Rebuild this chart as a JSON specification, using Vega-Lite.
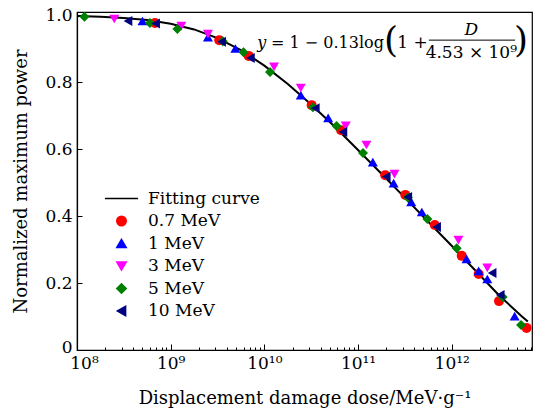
{
  "$schema": "https://vega.github.io/schema/vega-lite/v6.json",
  "width": 455,
  "height": 338,
  "autosize": "none",
  "padding": {"left": 77, "top": 12, "right": 3, "bottom": 59},
  "background": "white",
  "config": {
    "view": {"stroke": "black", "strokeWidth": 1.2},
    "font": "DejaVu Serif",
    "axis": {
      "domainColor": "black",
      "domainWidth": 1.2,
      "tickColor": "black",
      "tickWidth": 1,
      "labelColor": "black",
      "labelFont": "DejaVu Serif",
      "labelFontSize": 17,
      "titleFont": "DejaVu Serif",
      "titleFontSize": 18,
      "titleFontWeight": "normal",
      "titleColor": "black",
      "grid": false
    }
  },
  "datasets": {
    "curve": [
      {"D": 1e8, "P": 0.997},
      {"D": 1.78e8, "P": 0.995},
      {"D": 3.16e8, "P": 0.991},
      {"D": 5.62e8, "P": 0.985},
      {"D": 1e9, "P": 0.974},
      {"D": 1.78e9, "P": 0.957},
      {"D": 3.16e9, "P": 0.931},
      {"D": 5.62e9, "P": 0.895},
      {"D": 1e10, "P": 0.849},
      {"D": 1.78e10, "P": 0.794},
      {"D": 3.16e10, "P": 0.733},
      {"D": 5.62e10, "P": 0.667},
      {"D": 1e11, "P": 0.597},
      {"D": 1.78e11, "P": 0.526},
      {"D": 3.16e11, "P": 0.455},
      {"D": 5.62e11, "P": 0.383},
      {"D": 1e12, "P": 0.311},
      {"D": 1.78e12, "P": 0.238},
      {"D": 3.16e12, "P": 0.165},
      {"D": 5.62e12, "P": 0.1},
      {"D": 6.5e12, "P": 0.085}
    ],
    "pts": [
      {"series": "0.7 MeV", "D": 6.8e8, "P": 0.976},
      {"series": "0.7 MeV", "D": 3.3e9, "P": 0.925},
      {"series": "0.7 MeV", "D": 6.8e9, "P": 0.878},
      {"series": "0.7 MeV", "D": 3.2e10, "P": 0.731},
      {"series": "0.7 MeV", "D": 6.6e10, "P": 0.656},
      {"series": "0.7 MeV", "D": 1.95e11, "P": 0.522},
      {"series": "0.7 MeV", "D": 3.2e11, "P": 0.463},
      {"series": "0.7 MeV", "D": 6.6e11, "P": 0.373},
      {"series": "0.7 MeV", "D": 1.28e12, "P": 0.281},
      {"series": "0.7 MeV", "D": 1.94e12, "P": 0.227},
      {"series": "0.7 MeV", "D": 3.2e12, "P": 0.146},
      {"series": "0.7 MeV", "D": 6.3e12, "P": 0.066},
      {"series": "1 MeV", "D": 5.0e8, "P": 0.982},
      {"series": "1 MeV", "D": 2.5e9, "P": 0.934},
      {"series": "1 MeV", "D": 4.9e9, "P": 0.9},
      {"series": "1 MeV", "D": 2.45e10, "P": 0.761},
      {"series": "1 MeV", "D": 4.8e10, "P": 0.693},
      {"series": "1 MeV", "D": 1.44e11, "P": 0.561},
      {"series": "1 MeV", "D": 2.4e11, "P": 0.498},
      {"series": "1 MeV", "D": 3.7e11, "P": 0.442},
      {"series": "1 MeV", "D": 4.8e11, "P": 0.412},
      {"series": "1 MeV", "D": 1.44e12, "P": 0.272},
      {"series": "1 MeV", "D": 1.94e12, "P": 0.236},
      {"series": "1 MeV", "D": 2.4e12, "P": 0.212},
      {"series": "1 MeV", "D": 4.7e12, "P": 0.101},
      {"series": "3 MeV", "D": 2.5e8, "P": 0.988},
      {"series": "3 MeV", "D": 1.3e9, "P": 0.967},
      {"series": "3 MeV", "D": 2.5e9, "P": 0.943},
      {"series": "3 MeV", "D": 1.27e10, "P": 0.845},
      {"series": "3 MeV", "D": 2.45e10, "P": 0.782},
      {"series": "3 MeV", "D": 7.4e10, "P": 0.669},
      {"series": "3 MeV", "D": 1.23e11, "P": 0.612},
      {"series": "3 MeV", "D": 2.45e11, "P": 0.525},
      {"series": "3 MeV", "D": 1.18e12, "P": 0.328},
      {"series": "3 MeV", "D": 2.4e12, "P": 0.245},
      {"series": "5 MeV", "D": 1.2e8, "P": 0.995},
      {"series": "5 MeV", "D": 6.0e8, "P": 0.976},
      {"series": "5 MeV", "D": 1.18e9, "P": 0.958},
      {"series": "5 MeV", "D": 3.6e9, "P": 0.922},
      {"series": "5 MeV", "D": 6.0e9, "P": 0.889},
      {"series": "5 MeV", "D": 1.15e10, "P": 0.83},
      {"series": "5 MeV", "D": 3.3e10, "P": 0.725},
      {"series": "5 MeV", "D": 5.9e10, "P": 0.669},
      {"series": "5 MeV", "D": 1.13e11, "P": 0.588},
      {"series": "5 MeV", "D": 3.4e11, "P": 0.455},
      {"series": "5 MeV", "D": 5.5e11, "P": 0.391},
      {"series": "5 MeV", "D": 1.13e12, "P": 0.304},
      {"series": "5 MeV", "D": 3.5e12, "P": 0.158},
      {"series": "5 MeV", "D": 5.5e12, "P": 0.075},
      {"series": "10 MeV", "D": 3.5e8, "P": 0.982},
      {"series": "10 MeV", "D": 6.9e8, "P": 0.975},
      {"series": "10 MeV", "D": 3.5e9, "P": 0.92},
      {"series": "10 MeV", "D": 7.1e9, "P": 0.872},
      {"series": "10 MeV", "D": 3.5e10, "P": 0.722},
      {"series": "10 MeV", "D": 6.9e10, "P": 0.651},
      {"series": "10 MeV", "D": 2.0e11, "P": 0.517},
      {"series": "10 MeV", "D": 3.4e11, "P": 0.457},
      {"series": "10 MeV", "D": 6.9e11, "P": 0.367},
      {"series": "10 MeV", "D": 2.7e12, "P": 0.23},
      {"series": "10 MeV", "D": 3.3e12, "P": 0.164}
    ]
  },
  "layer": [
    {
      "data": {"name": "curve"},
      "mark": {"type": "line", "color": "black", "strokeWidth": 2},
      "encoding": {
        "x": {
          "field": "D",
          "type": "quantitative",
          "scale": {"type": "log", "domain": [1e8, 7.2e12], "nice": false},
          "axis": {
            "title": "Displacement damage dose/MeV·g⁻¹",
            "titlePadding": 15,
            "values": [1e8, 2e8, 3e8, 4e8, 5e8, 6e8, 7e8, 8e8, 9e8, 1e9, 2e9, 3e9, 4e9, 5e9, 6e9, 7e9, 8e9, 9e9, 1e10, 2e10, 3e10, 4e10, 5e10, 6e10, 7e10, 8e10, 9e10, 1e11, 2e11, 3e11, 4e11, 5e11, 6e11, 7e11, 8e11, 9e11, 1e12, 2e12, 3e12, 4e12, 5e12, 6e12, 7e12],
            "labelExpr": "abs(log(datum.value)/LN10 - round(log(datum.value)/LN10)) > 0.001 ? '' : (round(log(datum.value)/LN10) == 8 ? '10⁸' : round(log(datum.value)/LN10) == 9 ? '10⁹' : round(log(datum.value)/LN10) == 10 ? '10¹⁰' : round(log(datum.value)/LN10) == 11 ? '10¹¹' : '10¹²')",
            "tickSize": {"condition": {"test": "abs(log(datum.value)/LN10 - round(log(datum.value)/LN10)) < 0.001", "value": -6}, "value": -3},
            "labelPadding": 11,
            "labelOffset": {"condition": {"test": "datum.value < 1.5e8", "value": 7}, "value": 0},
            "labelFlush": false,
            "labelOverlap": false
          }
        },
        "y": {
          "field": "P",
          "type": "quantitative",
          "scale": {"domain": [0, 1.009], "nice": false, "zero": false},
          "axis": {
            "title": "Normalized maximum power",
            "titlePadding": 14,
            "values": [0, 0.1, 0.2, 0.3, 0.4, 0.5, 0.6, 0.7, 0.8, 0.9, 1.0],
            "labelExpr": "datum.value == 0 ? '0' : (round(datum.value*10) % 2 == 0 ? format(datum.value, '.1f') : '')",
            "tickSize": {"condition": {"test": "round(datum.value*10) % 2 == 0", "value": -5}, "value": -3},
            "labelPadding": 10,
            "labelOffset": {"condition": {"test": "datum.value == 0", "value": -3}, "value": 0},
            "labelFlush": false,
            "labelOverlap": false
          }
        }
      }
    },
    {
      "data": {"name": "pts"},
      "mark": {"type": "point", "filled": true, "opacity": 1, "size": 100},
      "encoding": {
        "x": {"field": "D", "type": "quantitative"},
        "y": {"field": "P", "type": "quantitative"},
        "color": {
          "field": "series",
          "type": "nominal",
          "scale": {
            "domain": ["Fitting curve", "0.7 MeV", "1 MeV", "3 MeV", "5 MeV", "10 MeV"],
            "range": ["black", "#ff0000", "#0000ff", "#ff00ff", "#008000", "#000080"]
          },
          "legend": {
            "title": null,
            "orient": "none",
            "legendX": 36,
            "legendY": 178,
            "padding": 0,
            "labelFont": "DejaVu Serif",
            "labelFontSize": 17,
            "labelColor": "black",
            "labelOffset": 18,
            "rowPadding": 4.5,
            "symbolSize": 90,
            "symbolOpacity": 1,
            "encode": {
              "symbols": {
                "update": {
                  "stroke": {"scale": "color", "field": "value"},
                  "strokeOpacity": {"value": 1},
                  "opacity": {"value": 1},
                  "strokeWidth": {"value": 1.5},
                  "shape": {"scale": "shape", "field": "value"},
                  "size": {"signal": "datum.value === 'Fitting curve' ? 1100 : 90"}
                }
              }
            }
          }
        },
        "shape": {
          "field": "series",
          "type": "nominal",
          "scale": {
            "domain": ["Fitting curve", "0.7 MeV", "1 MeV", "3 MeV", "5 MeV", "10 MeV"],
            "range": ["stroke", "circle", "triangle-up", "triangle-down", "diamond", "triangle-left"]
          },
          "legend": {
            "title": null,
            "orient": "none",
            "legendX": 36,
            "legendY": 178,
            "padding": 0,
            "labelFont": "DejaVu Serif",
            "labelFontSize": 17,
            "labelColor": "black",
            "labelOffset": 18,
            "rowPadding": 4.5,
            "symbolSize": 90,
            "symbolOpacity": 1,
            "encode": {
              "symbols": {
                "update": {
                  "stroke": {"scale": "color", "field": "value"},
                  "strokeOpacity": {"value": 1},
                  "opacity": {"value": 1},
                  "strokeWidth": {"value": 1.5},
                  "shape": {"scale": "shape", "field": "value"},
                  "size": {"signal": "datum.value === 'Fitting curve' ? 1100 : 90"}
                }
              }
            }
          }
        }
      }
    },
    {
      "data": {"values": [{}]},
      "mark": {"type": "text", "text": "y", "font": "DejaVu Serif", "fontStyle": "italic", "fontSize": 16, "align": "left", "baseline": "middle", "color": "black"},
      "encoding": {"x": {"datum": 8.42e9, "type": "quantitative"}, "y": {"datum": 0.916, "type": "quantitative"}}
    },
    {
      "data": {"values": [{}]},
      "mark": {"type": "text", "text": "= 1 − 0.13log", "font": "DejaVu Serif", "fontSize": 16, "align": "left", "baseline": "middle", "color": "black"},
      "encoding": {"x": {"datum": 1.18e10, "type": "quantitative"}, "y": {"datum": 0.916, "type": "quantitative"}}
    },
    {
      "data": {"values": [{}]},
      "mark": {"type": "text", "text": "(", "font": "DejaVu Serif", "fontSize": 36, "fontWeight": 200, "align": "center", "baseline": "middle", "color": "black"},
      "encoding": {"x": {"datum": 2.25e11, "type": "quantitative"}, "y": {"datum": 0.922, "type": "quantitative"}}
    },
    {
      "data": {"values": [{}]},
      "mark": {"type": "text", "text": "1 +", "font": "DejaVu Serif", "fontSize": 17, "align": "left", "baseline": "middle", "color": "black"},
      "encoding": {"x": {"datum": 2.62e11, "type": "quantitative"}, "y": {"datum": 0.916, "type": "quantitative"}}
    },
    {
      "data": {"values": [{}]},
      "mark": {"type": "text", "text": "D", "font": "DejaVu Serif", "fontStyle": "italic", "fontSize": 17, "align": "center", "baseline": "middle", "color": "black"},
      "encoding": {"x": {"datum": 1.615e12, "type": "quantitative"}, "y": {"datum": 0.955, "type": "quantitative"}}
    },
    {
      "data": {"values": [{}]},
      "mark": {"type": "rule", "color": "black", "strokeWidth": 1},
      "encoding": {"x": {"datum": 5.7e11, "type": "quantitative"}, "x2": {"datum": 4.76e12}, "y": {"datum": 0.925, "type": "quantitative"}}
    },
    {
      "data": {"values": [{}]},
      "mark": {"type": "text", "text": "4.53 × 10⁹", "font": "DejaVu Serif", "fontSize": 17, "align": "center", "baseline": "middle", "color": "black"},
      "encoding": {"x": {"datum": 1.62e12, "type": "quantitative"}, "y": {"datum": 0.887, "type": "quantitative"}}
    },
    {
      "data": {"values": [{}]},
      "mark": {"type": "text", "text": ")", "font": "DejaVu Serif", "fontSize": 36, "fontWeight": 200, "align": "center", "baseline": "middle", "color": "black"},
      "encoding": {"x": {"datum": 5.51e12, "type": "quantitative"}, "y": {"datum": 0.922, "type": "quantitative"}}
    }
  ]
}
